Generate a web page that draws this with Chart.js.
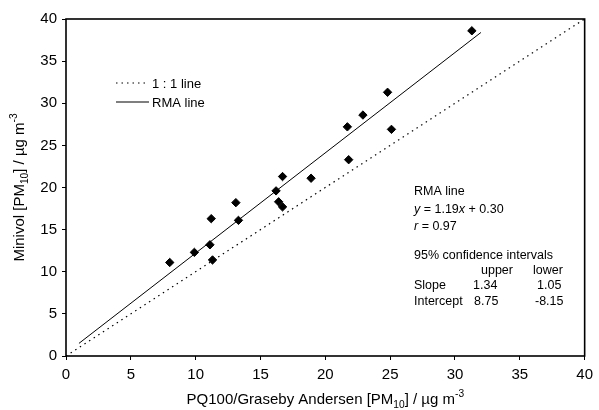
<!DOCTYPE html>
<html>
<head>
<meta charset="utf-8">
<script src="https://cdn.jsdelivr.net/npm/chart.js@4.4.1/dist/chart.umd.min.js"></script>
<style>
    html, body { margin: 0; padding: 0; background: #fff; }
    #wrap { width: 599px; height: 410px; }
</style>
</head>
<body>
<div id="wrap"><canvas id="chart"></canvas></div>
<script>
// values
const pq100 = [8.0, 9.9, 11.2, 11.1, 11.3, 13.1, 13.3, 16.2, 16.7, 16.4, 16.7, 18.9, 21.7, 22.9, 24.8, 25.1, 21.8, 31.3];
const minivol = [11.1, 12.3, 16.3, 13.2, 11.4, 18.2, 16.1, 19.6, 21.3, 18.3, 17.7, 21.1, 27.2, 28.6, 31.3, 26.9, 23.3, 38.6];
const oneToOneX = [0, 40];
const oneToOneY = [0, 40];
const rmaX = [1, 32];
const rmaY = [1.5, 38.4];
const tickStep = 5;
const axisMin = 0;
const axisMax = 40;

const FONT = '"Liberation Sans", Arial, Helvetica, sans-serif';

function toPoints(xs, ys) {
    return xs.map((x, i) => ({ x: x, y: ys[i] }));
}

// draw text made of parts, some sub/superscript or italic
function drawParts(ctx, parts, x, y, size, align) {
    const font = (p) => {
        const s = p.sub || p.sup ? size * 0.68 : size;
        return (p.it ? "italic " : "") + s + "px " + FONT;
    };
    let total = 0;
    parts.forEach((p) => {
        ctx.font = font(p);
        total += ctx.measureText(p.t).width;
    });
    let cx = align === "center" ? x - total / 2 : x;
    ctx.textAlign = "left";
    ctx.textBaseline = "alphabetic";
    parts.forEach((p) => {
        ctx.font = font(p);
        let dy = 0;
        if (p.sub) dy = size * 0.28;
        if (p.sup) dy = -size * 0.45;
        ctx.fillText(p.t, cx, y + dy);
        cx += ctx.measureText(p.t).width;
    });
}

const annotate = {
    id: "annotate",
    afterDraw(chart) {
        const ctx = chart.ctx;
        const a = chart.chartArea;
        ctx.save();
        ctx.fillStyle = "#000";
        ctx.strokeStyle = "#000";

        // box round the plot
        ctx.lineWidth = 1.6;
        ctx.strokeRect(a.left, a.top, a.right - a.left, a.bottom - a.top);

        // legend
        ctx.lineWidth = 1.2;
        ctx.setLineDash([1.5, 4]);
        ctx.beginPath();
        ctx.moveTo(116, 83);
        ctx.lineTo(149, 83);
        ctx.stroke();
        ctx.setLineDash([]);
        ctx.beginPath();
        ctx.moveTo(116, 102);
        ctx.lineTo(149, 102);
        ctx.stroke();
        drawParts(ctx, [{ t: "1 : 1 line" }], 152, 88, 13, "left");
        drawParts(ctx, [{ t: "RMA line" }], 152, 107, 13, "left");

        // statistics
        const lx = 414;
        const fs = 12.5;
        drawParts(ctx, [{ t: "RMA line" }], lx, 195, fs, "left");
        drawParts(ctx, [{ t: "y", it: true }, { t: " = 1.19" }, { t: "x", it: true }, { t: " + 0.30" }], lx, 213, fs, "left");
        drawParts(ctx, [{ t: "r", it: true }, { t: " = 0.97" }], lx, 230, fs, "left");
        drawParts(ctx, [{ t: "95% confidence intervals" }], lx, 259, fs, "left");
        drawParts(ctx, [{ t: "upper" }], 481, 274, fs, "left");
        drawParts(ctx, [{ t: "lower" }], 533, 274, fs, "left");
        drawParts(ctx, [{ t: "Slope" }], lx, 289, fs, "left");
        drawParts(ctx, [{ t: "1.34" }], 473, 289, fs, "left");
        drawParts(ctx, [{ t: "1.05" }], 537, 289, fs, "left");
        drawParts(ctx, [{ t: "Intercept" }], lx, 305, fs, "left");
        drawParts(ctx, [{ t: "8.75" }], 474, 305, fs, "left");
        drawParts(ctx, [{ t: "-8.15" }], 535, 305, fs, "left");

        // axis titles
        drawParts(ctx, [
            { t: "PQ100/Graseby Andersen [PM" }, { t: "10", sub: true },
            { t: "] / \u00b5g m" }, { t: "-3", sup: true }
        ], (a.left + a.right) / 2, 404, 15, "center");

        ctx.save();
        ctx.translate(24, (a.top + a.bottom) / 2);
        ctx.rotate(-Math.PI / 2);
        drawParts(ctx, [
            { t: "Minivol [PM" }, { t: "10", sub: true },
            { t: "] / \u00b5g m" }, { t: "-3", sup: true }
        ], 0, 0, 15, "center");
        ctx.restore();

        ctx.restore();
    },
};

const tickGrid = {
    drawOnChartArea: false,
    drawTicks: true,
    tickLength: 4,
    color: "#000",
    lineWidth: 1,
};

new Chart(document.getElementById("chart"), {
    type: "scatter",
    data: {
        datasets: [
            {
                label: "Samples",
                data: toPoints(pq100, minivol),
                pointStyle: "rectRot",
                pointRadius: 4.2,
                pointBackgroundColor: "#000",
                pointBorderColor: "#000",
                borderWidth: 1,
            },
            {
                type: "line",
                label: "1:1 line",
                data: toPoints(oneToOneX, oneToOneY),
                borderColor: "#000",
                borderWidth: 1.2,
                borderDash: [1.5, 4],
                pointRadius: 0,
                fill: false,
            },
            {
                type: "line",
                label: "RMA line",
                data: toPoints(rmaX, rmaY),
                borderColor: "#000",
                borderWidth: 1,
                pointRadius: 0,
                fill: false,
            },
        ],
    },
    options: {
        responsive: true,
        maintainAspectRatio: false,
        animation: false,
        layout: { padding: { top: 19, right: 10, left: 0, bottom: 0 } },
        plugins: {
            legend: { display: false },
            tooltip: { enabled: false },
        },
        scales: {
            x: {
                type: "linear",
                min: axisMin,
                max: axisMax,
                ticks: {
                    stepSize: tickStep,
                    color: "#000",
                    font: { family: FONT, size: 15 },
                    padding: 6,
                },
                grid: tickGrid,
                border: { display: false },
                afterFit: (scale) => { scale.height = 54; },
            },
            y: {
                type: "linear",
                min: axisMin,
                max: axisMax,
                ticks: {
                    stepSize: tickStep,
                    color: "#000",
                    font: { family: FONT, size: 15 },
                    padding: 5,
                },
                grid: tickGrid,
                border: { display: false },
                afterFit: (scale) => { scale.width = 66; },
            },
        },
    },
    plugins: [annotate],
});
</script>
</body>
</html>
